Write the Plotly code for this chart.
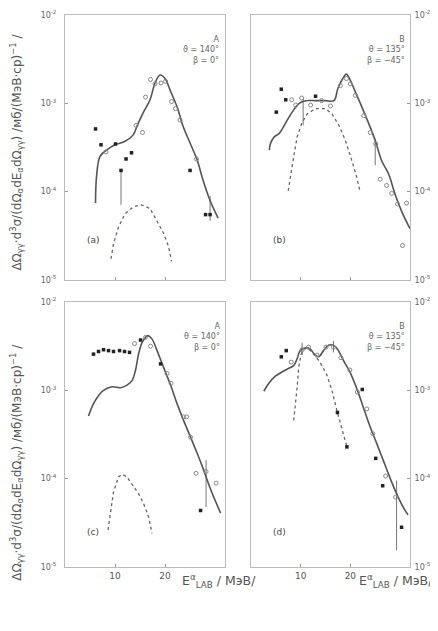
import plotly.graph_objects as go
import numpy as np

# ---------------- data (E in MeV, values as log10 of cross section) ----------------
# panel (a)  theta=140, beta=0
a_solid_E = [6.1, 6.3, 7.0, 8.3, 10, 12, 13.6, 14.6, 15.6, 17, 18, 19, 20, 21, 22.4, 23.6, 25, 26.4, 27.6, 29, 30.6]
a_solid_lg = [-4.13, -3.83, -3.60, -3.53, -3.47, -3.43, -3.36, -3.23, -3.11, -2.96, -2.77, -2.68, -2.72, -2.85, -3.04, -3.26, -3.45, -3.64, -3.87, -4.10, -4.30]
a_dash_E = [9.2, 9.7, 10.7, 12, 13.7, 15.3, 17, 18.3, 19.7, 20.7, 21.3]
a_dash_lg = [-4.76, -4.59, -4.40, -4.25, -4.17, -4.15, -4.19, -4.32, -4.47, -4.62, -4.79]
a_fill_E = [6.1, 7.2, 10.1, 11.2, 12.2, 13.3, 25, 28.1, 29]
a_fill_lg = [-3.29, -3.47, -3.46, -3.76, -3.63, -3.56, -3.76, -4.26, -4.26]
a_open_E = [8.2, 14.2, 15.5, 16.1, 17.1, 18, 19.2, 20.1, 21.3, 22.1, 23, 26.3]
a_open_lg = [-3.55, -3.25, -3.33, -2.93, -2.73, -2.78, -2.77, -2.75, -2.98, -3.06, -3.19, -3.63]
a_err_E = [11.2, 29.0]
a_err_lo = [-4.15, -4.33]
a_err_hi = [-3.76, -4.05]

# panel (b)  theta=135, beta=-45
b_solid_E = [3.7, 3.9, 4.7, 5.7, 6.3, 7.3, 8.3, 9.7, 11, 13, 15, 16.7, 17.5, 18.7, 19.2, 20, 21, 22.3, 23.7, 25, 26.3, 27.7, 29, 30.3, 32]
b_solid_lg = [-3.53, -3.46, -3.38, -3.34, -3.29, -3.19, -3.10, -3.00, -2.97, -2.97, -2.97, -2.97, -2.83, -2.70, -2.67, -2.74, -2.87, -3.04, -3.23, -3.42, -3.65, -3.80, -4.03, -4.22, -4.42]
b_dash_E = [7.5, 8, 8.7, 9.3, 10.2, 11.3, 13, 15, 16.3, 17.7, 19, 20.3, 21.3, 22]
b_dash_lg = [-3.99, -3.80, -3.57, -3.38, -3.23, -3.12, -3.06, -3.06, -3.12, -3.25, -3.42, -3.65, -3.84, -4.01]
b_fill_E = [6.1, 7.0, 5.1, 13.0]
b_fill_lg = [-2.84, -2.96, -3.10, -2.92]
b_open_E = [8.2, 9.0, 10.2, 12, 14.2, 16, 18, 19.2, 20, 21, 22.7, 24, 25.1, 26, 27.3, 28.3, 29.5, 31.3, 30.5]
b_open_lg = [-2.96, -3.02, -2.94, -3.02, -2.97, -3.03, -2.80, -2.72, -2.78, -2.91, -3.14, -3.33, -3.46, -3.86, -3.93, -4.02, -4.14, -4.13, -4.61]
b_err_E = [10.5, 25.0]
b_err_lo = [-3.25, -3.70]
b_err_hi = [-2.95, -3.40]

# panel (c)  theta=140, beta=0
c_solid_E = [4.7, 5.7, 6.7, 7.7, 9.4, 11.1, 12.4, 13.4, 14.1, 14.7, 15.4, 16.1, 16.5, 17.4, 18.4, 19.7, 21.1, 22.4, 23.7, 25.1, 26.4, 27.7, 29.1, 31.1]
c_solid_lg = [-3.29, -3.15, -3.06, -3.00, -2.96, -2.97, -2.94, -2.89, -2.77, -2.59, -2.46, -2.40, -2.38, -2.42, -2.55, -2.74, -2.94, -3.15, -3.34, -3.53, -3.71, -3.90, -4.12, -4.39]
c_dash_E = [8.6, 9.1, 9.7, 10.7, 11.4, 12.4, 13.7, 14.7, 15.7, 16.7, 17.4]
c_dash_lg = [-4.58, -4.39, -4.15, -3.98, -3.95, -3.98, -4.09, -4.17, -4.28, -4.43, -4.62]
c_fill_E = [5.7, 6.7, 7.7, 8.7, 9.7, 10.9, 11.9, 12.9, 15.1, 19.1, 27.1]
c_fill_lg = [-2.59, -2.56, -2.54, -2.55, -2.56, -2.55, -2.56, -2.57, -2.43, -2.70, -4.36]
c_open_E = [13.9, 16.1, 17.1, 20.4, 21.2, 23.7, 24.3, 25.1, 26.2, 28.2, 30.2]
c_open_lg = [-2.47, -2.40, -2.50, -2.81, -2.92, -3.30, -3.30, -3.53, -3.94, -3.92, -4.05]
c_err_E = [28.2]
c_err_lo = [-4.32]
c_err_hi = [-3.79]

# panel (d)  theta=135, beta=-45
d_solid_E = [2.6, 3.6, 4.9, 6.3, 7.6, 8.6, 9.3, 9.9, 10.9, 11.9, 12.6, 13.6, 14.6, 15.6, 16.6, 17.6, 18.6, 19.9, 21.3, 22.6, 23.9, 25.3, 26.6, 27.9, 29.3, 30.6, 31.6]
d_solid_lg = [-3.01, -2.92, -2.84, -2.79, -2.75, -2.72, -2.64, -2.55, -2.52, -2.53, -2.58, -2.62, -2.55, -2.49, -2.49, -2.55, -2.66, -2.79, -2.98, -3.19, -3.40, -3.60, -3.79, -3.98, -4.17, -4.32, -4.41]
d_dash_E = [8.6, 8.9, 9.3, 9.6, 10.1, 10.6, 11.6, 12.6, 13.9, 15.3, 16.3, 17.3, 18.3, 19.3]
d_dash_lg = [-3.34, -3.19, -2.96, -2.74, -2.59, -2.53, -2.53, -2.59, -2.68, -2.83, -3.00, -3.23, -3.45, -3.64]
d_fill_E = [6.1, 7.1, 17.4, 19.3, 22.4, 25.1, 26.5, 30.3]
d_fill_lg = [-2.62, -2.55, -3.25, -3.64, -2.99, -3.77, -4.08, -4.55]
d_open_E = [8.1, 10.3, 11.6, 13.3, 15.1, 16.6, 18.1, 19.9, 21.4, 23.3, 24.5, 27.1, 29.1]
d_open_lg = [-2.68, -2.54, -2.51, -2.60, -2.51, -2.51, -2.63, -2.77, -3.02, -3.21, -3.49, -3.97, -4.21]
d_err_E = [29.3, 10.3, 16.6]
d_err_lo = [-4.81, -2.60, -2.57]
d_err_hi = [-4.02, -2.46, -2.44]

y_tick_vals = [1e-5, 1e-4, 1e-3, 1e-2]
y_tick_text = ["10<sup>-5</sup>", "10<sup>-4</sup>", "10<sup>-3</sup>", "10<sup>-2</sup>"]
x_tick_vals = [10, 20]
x_tick_text = ["10", "20"]

panel_names = ["(a)", "(b)", "(c)", "(d)"]
angle_labels = [
    ("A", "ϑ = 140°", "β = 0°"),
    ("B", "θ = 135°", "β = −45°"),
    ("A", "θ = 140°", "β = 0°"),
    ("B", "θ = 135°", "β = −45°"),
]

panels = [
    (a_solid_E, a_solid_lg, a_dash_E, a_dash_lg, a_fill_E, a_fill_lg, a_open_E, a_open_lg, a_err_E, a_err_lo, a_err_hi),
    (b_solid_E, b_solid_lg, b_dash_E, b_dash_lg, b_fill_E, b_fill_lg, b_open_E, b_open_lg, b_err_E, b_err_lo, b_err_hi),
    (c_solid_E, c_solid_lg, c_dash_E, c_dash_lg, c_fill_E, c_fill_lg, c_open_E, c_open_lg, c_err_E, c_err_lo, c_err_hi),
    (d_solid_E, d_solid_lg, d_dash_E, d_dash_lg, d_fill_E, d_fill_lg, d_open_E, d_open_lg, d_err_E, d_err_lo, d_err_hi),
]

FONT = "DejaVu Sans"
fig = go.Figure()

for i, (sE, sL, dE, dL, fE, fL, oE, oL, eE, eLo, eHi) in enumerate(panels):
    xa = "x" if i == 0 else f"x{i+1}"
    ya = "y" if i == 0 else f"y{i+1}"
    ex, ey = [], []
    for e, lo, hi in zip(eE, eLo, eHi):
        ex += [e, e, None]
        ey += [10 ** lo, 10 ** hi, None]
    fig.add_trace(go.Scatter(x=ex, y=ey, mode="lines", line=dict(color="#777", width=1),
                             xaxis=xa, yaxis=ya, showlegend=False, hoverinfo="skip"))
    fig.add_trace(go.Scatter(x=dE, y=10 ** np.array(dL), mode="lines",
                             line=dict(color="#666", width=1.3, dash="dot"),
                             xaxis=xa, yaxis=ya, showlegend=False))
    fig.add_trace(go.Scatter(x=sE, y=10 ** np.array(sL), mode="lines", line_shape="spline",
                             line=dict(color="#555", width=1.6),
                             xaxis=xa, yaxis=ya, showlegend=False))
    fig.add_trace(go.Scatter(x=oE, y=10 ** np.array(oL), mode="markers",
                             marker=dict(symbol="circle-open", size=4, color="#888", line=dict(width=1)),
                             xaxis=xa, yaxis=ya, showlegend=False))
    fig.add_trace(go.Scatter(x=fE, y=10 ** np.array(fL), mode="markers",
                             marker=dict(symbol="square", size=3.5, color="#222"),
                             xaxis=xa, yaxis=ya, showlegend=False))

# the page body adds an 8 px margin, so the figure is 430 x 623
xdom = {0: [0, 0.464], 1: [0.539, 1.0], 2: [0, 0.464], 3: [0.539, 1.0]}
ydom = {0: [0.52, 1.0], 1: [0.52, 1.0], 2: [0, 0.48], 3: [0, 0.48]}
layout = dict(
    width=430, height=623,
    margin=dict(l=57, r=28, t=7, b=64),
    paper_bgcolor="white", plot_bgcolor="white",
    font=dict(family=FONT, color="#555", size=9),
    showlegend=False,
)
for i in range(4):
    xk = "xaxis" if i == 0 else f"xaxis{i+1}"
    yk = "yaxis" if i == 0 else f"yaxis{i+1}"
    ya_id = "y" if i == 0 else f"y{i+1}"
    xa_id = "x" if i == 0 else f"x{i+1}"
    bottom = i >= 2
    layout[xk] = dict(domain=xdom[i], anchor=ya_id, range=[0, 32], automargin=False,
                      tickvals=x_tick_vals, ticktext=x_tick_text,
                      showticklabels=bottom, ticks="inside", ticklen=3,
                      tickcolor="#999", showline=True, linecolor="#bbb", linewidth=1,
                      mirror=True, showgrid=False, zeroline=False,
                      tickfont=dict(size=9, color="#555"))
    layout[yk] = dict(domain=ydom[i], anchor=xa_id, type="log", range=[-5, -2], automargin=False,
                      tickvals=y_tick_vals, ticktext=y_tick_text,
                      side="left" if i % 2 == 0 else "right",
                      ticks="inside", ticklen=3, tickcolor="#999",
                      ticklabelstandoff=6 if i % 2 == 0 else 2,
                      showline=True, linecolor="#bbb", linewidth=1, mirror=True,
                      showgrid=False, zeroline=False,
                      tickfont=dict(size=8, color="#666"))
fig.update_layout(**layout)

ann = []
for i in range(4):
    xa_id = "x" if i == 0 else f"x{i+1}"
    ya_id = "y" if i == 0 else f"y{i+1}"
    ann.append(dict(x=4, y=-4.55 if i < 2 else -4.6, xref=xa_id, yref=ya_id, text=panel_names[i],
                    showarrow=False, font=dict(size=9, color="#444"), xanchor="left"))
    top, l1, l2 = angle_labels[i]
    ann.append(dict(x=31.3, y=-2.2, xref=xa_id, yref=ya_id, yanchor="top", xanchor="right",
                    text=f"{top}<br>{l1}<br>{l2}", align="right", showarrow=False,
                    font=dict(size=8, color="#666")))

for xp in [0.333, 0.846]:
    ann.append(dict(x=xp, y=-0.026, xref="paper", yref="paper", xanchor="left", yanchor="middle",
                    text="E<sup>α</sup><sub>LAB</sub> / МэВ/", showarrow=False,
                    font=dict(size=12.5, color="#555")))

ylab = "ΔΩ<sub>γγ</sub>·d<sup>3</sup>σ/(dΩ<sub>α</sub>dE<sub>α</sub>dΩ<sub>γγ</sub>) /мб/(МэВ·ср)<sup>−1</sup> /"
ann.append(dict(x=-0.14, y=0.752, xref="paper", yref="paper", text=ylab, textangle=-90,
                showarrow=False, xanchor="center", yanchor="middle",
                font=dict(size=12, color="#555")))
ann.append(dict(x=-0.14, y=0.19, xref="paper", yref="paper", text=ylab, textangle=-90,
                showarrow=False, xanchor="center", yanchor="middle",
                font=dict(size=12, color="#555")))
fig.update_layout(annotations=ann)

fig.write_html("out.html")
